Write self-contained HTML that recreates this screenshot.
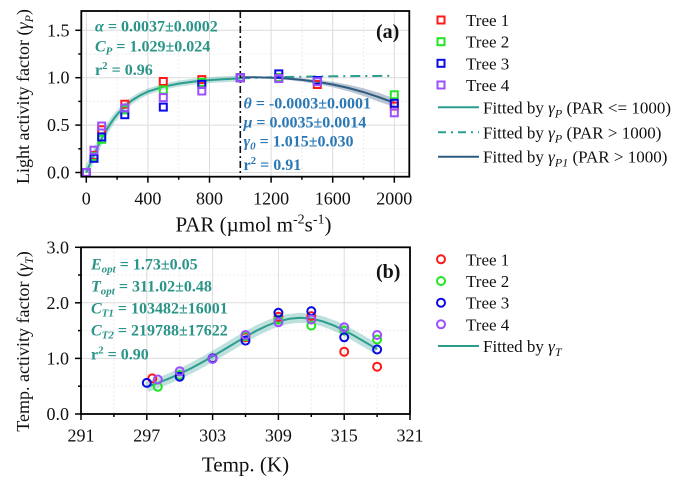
<!DOCTYPE html>
<html><head><meta charset="utf-8"><style>
html,body{margin:0;padding:0;background:#fff;}
svg{display:block;}
svg, text, tspan{font-family:"Liberation Serif","Times New Roman",serif;}
</style></head><body>
<svg width="683" height="478" viewBox="0 0 683 478" xmlns="http://www.w3.org/2000/svg" font-family="'Liberation Serif', 'Times New Roman', serif">
<defs>
<rect id="sqR" x="-3.5" y="-3.5" width="7" height="7" fill="none" stroke="#ff1a1a" stroke-width="2"/>
<rect id="sqG" x="-3.5" y="-3.5" width="7" height="7" fill="none" stroke="#22e622" stroke-width="2"/>
<rect id="sqB" x="-3.5" y="-3.5" width="7" height="7" fill="none" stroke="#0a0ae6" stroke-width="2"/>
<rect id="sqP" x="-3.5" y="-3.5" width="7" height="7" fill="none" stroke="#9d4fff" stroke-width="2"/>
<circle id="cR" r="4" fill="none" stroke="#ff1a1a" stroke-width="2"/>
<circle id="cG" r="4" fill="none" stroke="#22e622" stroke-width="2"/>
<circle id="cB" r="4" fill="none" stroke="#0a0ae6" stroke-width="2"/>
<circle id="cP" r="4" fill="none" stroke="#9d4fff" stroke-width="2"/>
</defs>

<!-- ===== TOP PLOT (a) ===== -->
<g stroke="#ececec" stroke-width="1" stroke-dasharray="2,2">
<line x1="117.1" y1="11" x2="117.1" y2="176.7"/><line x1="178.7" y1="11" x2="178.7" y2="176.7"/>
<line x1="301.9" y1="11" x2="301.9" y2="176.7"/><line x1="363.5" y1="11" x2="363.5" y2="176.7"/>
<line x1="81.3" y1="148.8" x2="409.3" y2="148.8"/><line x1="81.3" y1="101.4" x2="409.3" y2="101.4"/>
<line x1="81.3" y1="54" x2="409.3" y2="54"/>
</g>
<g stroke="#dcdcdc" stroke-width="1">
<line x1="86.3" y1="11" x2="86.3" y2="176.7"/><line x1="147.9" y1="11" x2="147.9" y2="176.7"/>
<line x1="209.5" y1="11" x2="209.5" y2="176.7"/><line x1="271.1" y1="11" x2="271.1" y2="176.7"/>
<line x1="332.7" y1="11" x2="332.7" y2="176.7"/><line x1="394.3" y1="11" x2="394.3" y2="176.7"/>
<line x1="81.3" y1="172.5" x2="409.3" y2="172.5"/><line x1="81.3" y1="125.1" x2="409.3" y2="125.1"/>
<line x1="81.3" y1="77.7" x2="409.3" y2="77.7"/><line x1="81.3" y1="30.3" x2="409.3" y2="30.3"/>
</g>

<polyline fill="none" stroke="#2a9d8f" stroke-opacity="0.3" stroke-width="6" stroke-linejoin="round" points="86.3,172.5 88.2,168.0 90.15,163.5 94.0,154.8 97.85,146.4 101.7,138.6 105.55,131.6 109.4,125.2 113.25,119.5 117.1,114.5 124.8,106.3 132.5,100.0 140.2,95.3 147.9,91.6 163.3,86.7 178.7,83.6 194.1,81.5 209.5,80.1 224.9,79.1 240.3,78.4"/>
<polygon fill="#8597ad" fill-opacity="0.55" points="240.3,76.7 255.7,76.7 271.1,76.8 286.5,77.25 301.9,78.2 317.3,79.7 332.7,81.8 348.1,84.6 363.5,88.2 378.9,92.7 394.3,98.6 394.3,107.0 378.9,101.7 363.5,96.0 348.1,91.2 332.7,87.2 317.3,84.1 301.9,81.6 286.5,79.75 271.1,78.6 255.7,77.9 240.3,77.7"/>
<polyline fill="none" stroke="#2a9d8f" stroke-width="2" stroke-linejoin="round" points="86.3,172.5 88.2,168.0 90.15,163.5 94.0,154.8 97.85,146.4 101.7,138.6 105.55,131.6 109.4,125.2 113.25,119.5 117.1,114.5 124.8,106.3 132.5,100.0 140.2,95.3 147.9,91.6 163.3,86.7 178.7,83.6 194.1,81.5 209.5,80.1 224.9,79.1 240.3,78.4"/>
<polyline fill="none" stroke="#2a9d8f" stroke-width="2" stroke-dasharray="10,5,2,5" points="240.3,78.4 271.1,77.3 301.9,76.7 332.7,76.3 363.5,76.0 394.3,75.8"/>
<polyline fill="none" stroke="#2d5c82" stroke-width="2" stroke-linejoin="round" points="240.3,77.2 255.7,77.3 271.1,77.7 286.5,78.5 301.9,79.9 317.3,81.9 332.7,84.5 348.1,87.9 363.5,92.1 378.9,97.2 394.3,102.8"/>

<line x1="240.3" y1="11" x2="240.3" y2="176.7" stroke="#111" stroke-width="1.6" stroke-dasharray="7,3,2,3"/>

<g>
<use href="#sqR" x="86.3" y="172.5"/><use href="#sqR" x="94" y="155.4"/><use href="#sqR" x="101.7" y="129.8"/><use href="#sqR" x="124.8" y="104.2"/><use href="#sqR" x="163.3" y="81.5"/><use href="#sqR" x="201.8" y="79.6"/><use href="#sqR" x="240.3" y="77.7"/><use href="#sqR" x="278.8" y="77.7"/><use href="#sqR" x="317.3" y="84.5"/><use href="#sqR" x="394.3" y="106.1"/>
<use href="#sqG" x="86.3" y="172.5"/><use href="#sqG" x="94" y="156.4"/><use href="#sqG" x="101.7" y="139.3"/><use href="#sqG" x="124.8" y="109.9"/><use href="#sqG" x="163.3" y="90.0"/><use href="#sqG" x="201.8" y="82.4"/><use href="#sqG" x="240.3" y="77.7"/><use href="#sqG" x="278.8" y="77.7"/><use href="#sqG" x="317.3" y="81.5"/><use href="#sqG" x="394.3" y="94.8"/>
<use href="#sqB" x="86.3" y="172.5"/><use href="#sqB" x="94" y="158.3"/><use href="#sqB" x="101.7" y="137.0"/><use href="#sqB" x="124.8" y="114.7"/><use href="#sqB" x="163.3" y="107.1"/><use href="#sqB" x="201.8" y="84.3"/><use href="#sqB" x="240.3" y="77.7"/><use href="#sqB" x="278.8" y="73.9"/><use href="#sqB" x="317.3" y="80.5"/><use href="#sqB" x="394.3" y="103.3"/>
<use href="#sqP" x="86.3" y="172.5"/><use href="#sqP" x="94" y="150.2"/><use href="#sqP" x="101.7" y="126.0"/><use href="#sqP" x="124.8" y="108.0"/><use href="#sqP" x="163.3" y="97.6"/><use href="#sqP" x="201.8" y="91.0"/><use href="#sqP" x="240.3" y="77.7"/><use href="#sqP" x="278.8" y="78.6"/><use href="#sqP" x="317.3" y="81.7"/><use href="#sqP" x="394.3" y="112.8"/>
</g>

<rect x="81.3" y="11" width="328" height="165.7" fill="none" stroke="#000" stroke-width="1.8"/>
<g stroke="#000" stroke-width="1.5">
<line x1="75.3" y1="172.5" x2="81.3" y2="172.5"/><line x1="75.3" y1="125.1" x2="81.3" y2="125.1"/>
<line x1="75.3" y1="77.7" x2="81.3" y2="77.7"/><line x1="75.3" y1="30.3" x2="81.3" y2="30.3"/>
<line x1="78.3" y1="148.8" x2="81.3" y2="148.8"/><line x1="78.3" y1="101.4" x2="81.3" y2="101.4"/><line x1="78.3" y1="54" x2="81.3" y2="54"/>
<line x1="86.3" y1="176.7" x2="86.3" y2="182.7"/><line x1="147.9" y1="176.7" x2="147.9" y2="182.7"/>
<line x1="209.5" y1="176.7" x2="209.5" y2="182.7"/><line x1="271.1" y1="176.7" x2="271.1" y2="182.7"/>
<line x1="332.7" y1="176.7" x2="332.7" y2="182.7"/><line x1="394.3" y1="176.7" x2="394.3" y2="182.7"/>
<line x1="117.1" y1="176.7" x2="117.1" y2="179.7"/><line x1="178.7" y1="176.7" x2="178.7" y2="179.7"/>
<line x1="240.3" y1="176.7" x2="240.3" y2="179.7"/><line x1="301.9" y1="176.7" x2="301.9" y2="179.7"/><line x1="363.5" y1="176.7" x2="363.5" y2="179.7"/>
</g>
<g font-size="18" fill="#111" text-anchor="end">
<text x="69.5" y="178.5">0.0</text><text x="69.5" y="131.1">0.5</text><text x="69.5" y="83.7">1.0</text><text x="69.5" y="36.3">1.5</text>
</g>
<g font-size="18" fill="#111" text-anchor="middle">
<text x="86.3" y="204.5">0</text><text x="147.9" y="204.5">400</text><text x="209.5" y="204.5">800</text><text x="271.1" y="204.5">1200</text><text x="332.7" y="204.5">1600</text><text x="394.3" y="204.5">2000</text>
</g>
<text x="253.5" y="231.7" font-size="21" fill="#111" text-anchor="middle">PAR (µmol m<tspan font-size="14" dy="-8">-2</tspan><tspan dy="8">s</tspan><tspan font-size="14" dy="-8">-1</tspan><tspan dy="8">)</tspan></text>
<text transform="translate(29,96.5) rotate(-90)" font-size="18" fill="#111" text-anchor="middle">Light activity factor (<tspan font-style="italic">γ</tspan><tspan font-style="italic" font-size="12" dy="4">P</tspan><tspan dy="-4">)</tspan></text>

<g font-size="16" font-weight="bold" fill="#2a9488">
<text x="95" y="31.5"><tspan font-style="italic">α</tspan> = 0.0037±0.0002</text>
<text x="95" y="51.7"><tspan font-style="italic">C</tspan><tspan font-style="italic" font-size="11" dy="3">P</tspan><tspan dy="-3"> = 1.029±0.024</tspan></text>
<text x="95" y="75">r<tspan font-size="11" dy="-6">2</tspan><tspan dy="6"> = 0.96</tspan></text>
</g>
<g font-size="16" font-weight="bold" fill="#2a78b6">
<text x="243.5" y="108.3"><tspan font-style="italic">θ</tspan> = -0.0003±0.0001</text>
<text x="243.5" y="127.7"><tspan font-style="italic">μ</tspan> = 0.0035±0.0014</text>
<text x="243.5" y="146.7"><tspan font-style="italic">γ</tspan><tspan font-style="italic" font-size="11" dy="3">0</tspan><tspan dy="-3"> = 1.015±0.030</tspan></text>
<text x="243.5" y="170">r<tspan font-size="11" dy="-6">2</tspan><tspan dy="6"> = 0.91</tspan></text>
</g>
<text x="376" y="38" font-size="20" font-weight="bold" fill="#111">(a)</text>

<use href="#sqR" x="441" y="20"/><use href="#sqG" x="441" y="41.7"/><use href="#sqB" x="441" y="63.3"/><use href="#sqP" x="441" y="85"/>
<g font-size="17" fill="#111">
<text x="466" y="26">Tree 1</text><text x="466" y="47.7">Tree 2</text><text x="466" y="69.3">Tree 3</text><text x="466" y="91">Tree 4</text>
<text x="483" y="113.3">Fitted by <tspan font-style="italic">γ</tspan><tspan font-style="italic" font-size="12" dy="4">P</tspan><tspan dy="-4"> (PAR &lt;= 1000)</tspan></text>
<text x="483" y="138.3">Fitted by <tspan font-style="italic">γ</tspan><tspan font-style="italic" font-size="12" dy="4">P</tspan><tspan dy="-4"> (PAR &gt; 1000)</tspan></text>
<text x="483" y="162.7">Fitted by <tspan font-style="italic">γ</tspan><tspan font-style="italic" font-size="12" dy="4">P1</tspan><tspan dy="-4"> (PAR &gt; 1000)</tspan></text>
</g>
<line x1="438" y1="107.3" x2="479" y2="107.3" stroke="#2a9d8f" stroke-width="2"/>
<line x1="438" y1="132.3" x2="479" y2="132.3" stroke="#2a9d8f" stroke-width="2" stroke-dasharray="8,5,2,5"/>
<line x1="438" y1="156.7" x2="479" y2="156.7" stroke="#2d5c82" stroke-width="2"/>

<!-- ===== BOTTOM PLOT (b) ===== -->
<g stroke="#ececec" stroke-width="1" stroke-dasharray="2,2">
<line x1="113.9" y1="247.3" x2="113.9" y2="414"/><line x1="179.7" y1="247.3" x2="179.7" y2="414"/>
<line x1="245.5" y1="247.3" x2="245.5" y2="414"/><line x1="311.3" y1="247.3" x2="311.3" y2="414"/>
<line x1="377.1" y1="247.3" x2="377.1" y2="414"/>
<line x1="81" y1="386.2" x2="410" y2="386.2"/><line x1="81" y1="330.6" x2="410" y2="330.6"/><line x1="81" y1="275" x2="410" y2="275"/>
</g>
<g stroke="#dcdcdc" stroke-width="1">
<line x1="146.8" y1="247.3" x2="146.8" y2="414"/><line x1="212.6" y1="247.3" x2="212.6" y2="414"/>
<line x1="278.4" y1="247.3" x2="278.4" y2="414"/><line x1="344.2" y1="247.3" x2="344.2" y2="414"/>
<line x1="81" y1="358.4" x2="410" y2="358.4"/><line x1="81" y1="302.8" x2="410" y2="302.8"/>
</g>
<polyline fill="none" stroke="#2a9d8f" stroke-opacity="0.3" stroke-width="10" stroke-linejoin="round" points="146.8,387.0 157.8,383.0 168.7,378.7 179.7,373.8 190.7,368.5 201.6,362.6 212.6,356.4 223.6,349.9 234.5,343.3 245.5,336.8 256.5,330.7 267.4,325.5 278.4,321.4 289.4,318.8 300.3,317.8 311.3,318.6 322.2,321.2 333.2,325.2 344.2,330.4 355.2,336.3 366.1,342.7 377.1,349.2"/>
<polyline fill="none" stroke="#2a9d8f" stroke-width="2" stroke-linejoin="round" points="146.8,387.0 157.8,383.0 168.7,378.7 179.7,373.8 190.7,368.5 201.6,362.6 212.6,356.4 223.6,349.9 234.5,343.3 245.5,336.8 256.5,330.7 267.4,325.5 278.4,321.4 289.4,318.8 300.3,317.8 311.3,318.6 322.2,321.2 333.2,325.2 344.2,330.4 355.2,336.3 366.1,342.7 377.1,349.2"/>
<g>
<use href="#cR" x="152.3" y="378.4"/><use href="#cR" x="179.7" y="375.1"/><use href="#cR" x="212.6" y="358.4"/><use href="#cR" x="245.5" y="337.3"/><use href="#cR" x="278.4" y="316.7"/><use href="#cR" x="311.3" y="316.1"/><use href="#cR" x="344.2" y="351.7"/><use href="#cR" x="377.1" y="366.7"/>
<use href="#cG" x="157.8" y="386.8"/><use href="#cG" x="179.7" y="375.1"/><use href="#cG" x="212.6" y="358.4"/><use href="#cG" x="245.5" y="336.2"/><use href="#cG" x="278.4" y="319.5"/><use href="#cG" x="311.3" y="325.6"/><use href="#cG" x="344.2" y="330.6"/><use href="#cG" x="377.1" y="339.5"/>
<use href="#cB" x="146.8" y="382.9"/><use href="#cB" x="179.7" y="376.7"/><use href="#cB" x="212.6" y="358.4"/><use href="#cB" x="245.5" y="340.6"/><use href="#cB" x="278.4" y="312.8"/><use href="#cB" x="311.3" y="311.1"/><use href="#cB" x="344.2" y="337.3"/><use href="#cB" x="377.1" y="349.5"/>
<use href="#cP" x="157.8" y="379.5"/><use href="#cP" x="179.7" y="371.2"/><use href="#cP" x="212.6" y="359.0"/><use href="#cP" x="245.5" y="335.0"/><use href="#cP" x="278.4" y="322.3"/><use href="#cP" x="311.3" y="319.5"/><use href="#cP" x="344.2" y="327.3"/><use href="#cP" x="377.1" y="335.0"/>
</g>
<rect x="81" y="247.3" width="329" height="166.7" fill="none" stroke="#000" stroke-width="1.8"/>
<g stroke="#000" stroke-width="1.5">
<line x1="75" y1="414" x2="81" y2="414"/><line x1="75" y1="358.4" x2="81" y2="358.4"/>
<line x1="75" y1="302.8" x2="81" y2="302.8"/><line x1="75" y1="247.3" x2="81" y2="247.3"/>
<line x1="78" y1="386.2" x2="81" y2="386.2"/><line x1="78" y1="330.6" x2="81" y2="330.6"/><line x1="78" y1="275" x2="81" y2="275"/>
<line x1="81" y1="414" x2="81" y2="420"/><line x1="146.8" y1="414" x2="146.8" y2="420"/>
<line x1="212.6" y1="414" x2="212.6" y2="420"/><line x1="278.4" y1="414" x2="278.4" y2="420"/>
<line x1="344.2" y1="414" x2="344.2" y2="420"/><line x1="410" y1="414" x2="410" y2="420"/>
<line x1="113.9" y1="414" x2="113.9" y2="417"/><line x1="179.7" y1="414" x2="179.7" y2="417"/>
<line x1="245.5" y1="414" x2="245.5" y2="417"/><line x1="311.3" y1="414" x2="311.3" y2="417"/><line x1="377.1" y1="414" x2="377.1" y2="417"/>
</g>
<g font-size="18" fill="#111" text-anchor="end">
<text x="69" y="420">0.0</text><text x="69" y="364.4">1.0</text><text x="69" y="308.8">2.0</text><text x="69" y="253.3">3.0</text>
</g>
<g font-size="18" fill="#111" text-anchor="middle">
<text x="81" y="441.5">291</text><text x="146.8" y="441.5">297</text><text x="212.6" y="441.5">303</text><text x="278.4" y="441.5">309</text><text x="344.2" y="441.5">315</text><text x="410" y="441.5">321</text>
</g>
<text x="245.5" y="471.7" font-size="21" fill="#111" text-anchor="middle">Temp. (K)</text>
<text transform="translate(29,341.5) rotate(-90)" font-size="18" fill="#111" text-anchor="middle">Temp. activity factor (<tspan font-style="italic">γ</tspan><tspan font-style="italic" font-size="12" dy="4">T</tspan><tspan dy="-4">)</tspan></text>

<g font-size="16" font-weight="bold" fill="#2a9488">
<text x="91" y="269.5"><tspan font-style="italic">E</tspan><tspan font-style="italic" font-size="11" dy="3">opt</tspan><tspan dy="-3"> = 1.73±0.05</tspan></text>
<text x="91" y="291.7"><tspan font-style="italic">T</tspan><tspan font-style="italic" font-size="11" dy="3">opt</tspan><tspan dy="-3"> = 311.02±0.48</tspan></text>
<text x="91" y="313.5"><tspan font-style="italic">C</tspan><tspan font-style="italic" font-size="11" dy="3">T1</tspan><tspan dy="-3"> = 103482±16001</tspan></text>
<text x="91" y="335.5"><tspan font-style="italic">C</tspan><tspan font-style="italic" font-size="11" dy="3">T2</tspan><tspan dy="-3"> = 219788±17622</tspan></text>
<text x="91" y="359.5">r<tspan font-size="11" dy="-6">2</tspan><tspan dy="6"> = 0.90</tspan></text>
</g>
<text x="376" y="278" font-size="20" font-weight="bold" fill="#111">(b)</text>

<use href="#cR" x="441" y="259.3"/><use href="#cG" x="441" y="281"/><use href="#cB" x="441" y="302.7"/><use href="#cP" x="441" y="324.3"/>
<g font-size="17" fill="#111">
<text x="466" y="265.3">Tree 1</text><text x="466" y="287">Tree 2</text><text x="466" y="308.7">Tree 3</text><text x="466" y="330.3">Tree 4</text>
<text x="483" y="352">Fitted by <tspan font-style="italic">γ</tspan><tspan font-style="italic" font-size="12" dy="4">T</tspan></text>
</g>
<line x1="438" y1="346" x2="479" y2="346" stroke="#2a9d8f" stroke-width="2"/>
</svg>
</body></html>
